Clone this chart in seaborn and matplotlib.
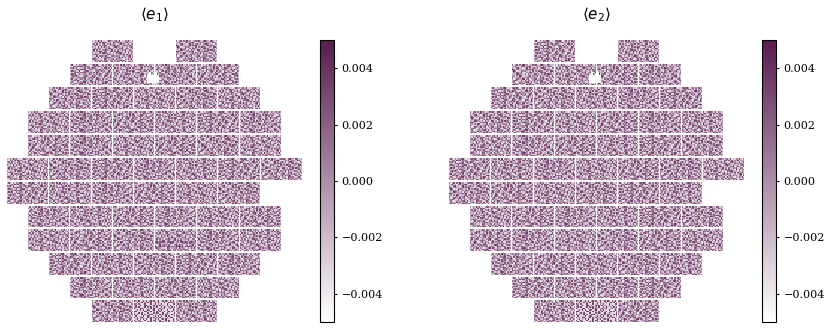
import numpy as np
import matplotlib
matplotlib.use("Agg")
import matplotlib.pyplot as plt
from matplotlib.colors import LinearSegmentedColormap
import seaborn as sns

# chip columns of each focal plane row, in half chip units
chip_cols = [[4, 8],
             [3, 5, 7, 9],
             [2, 4, 6, 8, 10],
             [1, 3, 5, 7, 9, 11],
             [1, 3, 5, 7, 9, 11],
             [0, 2, 4, 6, 8, 10, 12],
             [0, 2, 4, 6, 8, 10],
             [1, 3, 5, 7, 9, 11],
             [1, 3, 5, 7, 9, 11],
             [2, 4, 6, 8, 10],
             [3, 5, 7, 9],
             [4, 6, 8]]

# hand typed texture levels 0-9, NOT the real cell values of the reference
tile_a = ["3152947120386415729031648205", "2064183957213096482715390462",
          "4718230691548273016945228137", "1395062478103659274108563924",
          "6230917384261048953272140586", "0482753116097342618590473219",
          "3917240568432915072364811750", "2605389147016728493150926348",
          "5143072896325041768923407162", "1786420351984270315648092573",
          "4029167538210693847125036914", "2371905246876314059283714608",
          "6854213097142580936410527391", "0293748165309427162857304126",
          "3146082579621803475092916843"]
tile_b = ["1704382956120473859216047385", "5261907348296105734082913640",
          "0483126579043618297536420172", "3925740186572930461827105963",
          "2160593847318642075194368205", "7438201965024719386250741318",
          "0915673428193560842317926054", "4382016795637201958463012789",
          "1267948350428915370624589132", "6053127489051347826109347260",
          "3890462175936280413758120694", "2147839506214096758231465078",
          "5702316984073851629403297315", "0369254718462103975186032841",
          "4126803597138674205392718406"]
tile_c = ["2830516479302168594037162845", "0147295836471025938614270391",
          "6593801247168397420152893706", "1320674958205641873926045182",
          "4875129036982310567384712950", "0216483759043728196205438617",
          "3958017264619504372841069325", "7142360895237168045973216048",
          "0685942137840296513620785193", "2371056498125739086142903476",
          "5904723618046281397508164230", "1268394075713940628375021896",
          "3740162589250683914216497052", "8026537914063172845039681324",
          "1593208647319425706824130567"]
# bottom middle chip, much harder contrast with pale cracks
tile_d = ["8519028190592801902819508291", "0190190529180091820190192805",
          "9508201900190280519020910089", "1900910892501908290501809010",
          "5829001908290519008192050918", "9100892051091820190580129081",
          "0281909018502910829100900192", "8900120982190508190280191805",
          "5019081009010829501901820009", "9280190820989050192808501928",
          "0901028019500291809019080105", "8150982009182805091200928901",
          "0290518190090192805819010082", "9018200910280950182009280190",
          "1805921008190182091805090128"]
# row 9 chip with the dark horizontal streaks
tile_e = ["3152947120386415729031648205", "2064183957213096482715390462",
          "4718230691548273016945228137", "1395062478103659274108563924",
          "6230917384261048953272140586", "0482753116097342618590473219",
          "3917240568432915072364811750", "2605389147016728493150926348",
          "7948698368979247189697389648", "1786420351984270315648092573",
          "4029167538210693847125036914", "9478968398579489968379897469",
          "6854213097142580936410527391", "0293748165309427162857304126",
          "3146082579621803475092916843"]
tiles = {"A": tile_a, "B": tile_b, "C": tile_c, "D": tile_d, "E": tile_e}

# tile used by each chip, lower case means the tile is turned around
e1_tiles = ["Ab", "CaBc", "bCAbA", "ABcaCB", "cBAcbA", "AbCBaCb", "CaBcAb",
            "BacBAc", "AcbEBa", "CabCB", "BacA", "bDa"]
e2_tiles = ["Ca", "bAcB", "CbaBC", "bCAcBa", "ABcaCb", "CaBAcbA", "bcAbCa",
            "AcBaCb", "cBAbcA", "BcAba", "CabC", "aDc"]

# empty cells of the hole near the top, (first row, last row, first col, last col)
hole_cells = [(32, 36, 141, 143), (32, 36, 147, 149), (35, 44, 139, 151)]

cbar_ticks = [-0.004, -0.002, 0.0, 0.002, 0.004]
titles = [r"$\langle e_1 \rangle$", r"$\langle e_2 \rangle$"]
vmax = 0.005

# cells of 1 and 2 grid steps in turn, about 1.5 pixels on average
col_steps = [1, 2] * 14
row_steps = [2, 1] * 7 + [2]


def build_grid(chip_tiles):
    grid = np.full((286, 293), np.nan)
    for row, cols in enumerate(chip_cols):
        for col, name in zip(cols, chip_tiles[row]):
            tile = np.array([[int(c) for c in line] for line in tiles[name.upper()]])
            if name.islower():
                tile = tile[::-1, ::-1]
            vals = (tile - 4.7) * 0.0008
            vals = np.repeat(np.repeat(vals, row_steps, axis=0), col_steps, axis=1)[:22, :41]
            grid[row * 24:row * 24 + 22, col * 21:col * 21 + 41] = vals
    for r0, r1, c0, c1 in hole_cells:
        grid[r0:r1, c0:c1] = np.nan
    return grid


sns.set_style("white", {"text.color": "black", "ytick.color": "black", "axes.labelcolor": "black"})
plt.rcParams["font.family"] = ["DejaVu Serif"]
plt.rcParams["mathtext.fontset"] = "dejavusans"

cmap = LinearSegmentedColormap.from_list("plum", ["#ffffff", "#591c50"])
W, H = 830, 330
fig = plt.figure(figsize=(W / 100, H / 100), dpi=100)

for i, chip_tiles in enumerate([e1_tiles, e2_tiles]):
    x0 = 7 + i * 442
    ax = fig.add_axes([x0 / W, 1 - 322 / H, 295 / W, 282 / H])
    cax = fig.add_axes([(x0 + 313) / W, 1 - 322 / H, 14 / W, 282 / H])
    sns.heatmap(build_grid(chip_tiles), ax=ax, cbar_ax=cax, cmap=cmap,
                vmin=-vmax, vmax=vmax, xticklabels=False, yticklabels=False)
    ax.set_title(titles[i], fontsize=11, pad=15, color="black")
    cbar = ax.collections[0].colorbar
    cbar.set_ticks(cbar_ticks)
    cbar.ax.tick_params(labelsize=8, length=2.5, width=0.8, pad=2.8, color="black", labelcolor="black")
    cbar.outline.set_linewidth(0.8)
    cbar.outline.set_edgecolor("black")

fig.savefig("out.png", dpi=100)
